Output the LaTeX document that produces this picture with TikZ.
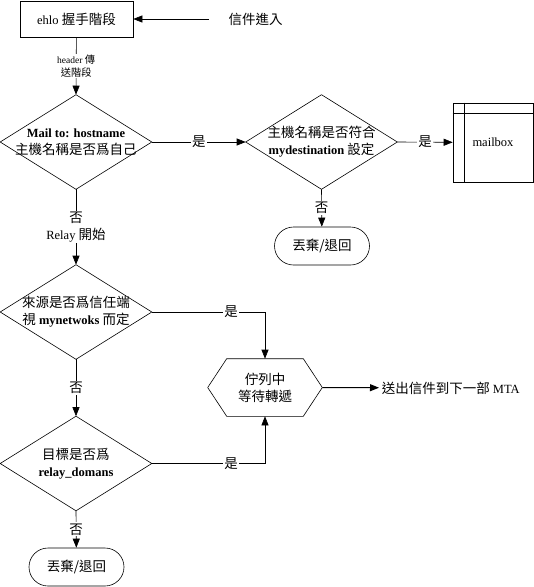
\documentclass[tikz,border=0pt]{standalone}
\usepackage{fontspec}
\setmainfont{Liberation Serif}
\newfontfamily\cjk[Scale=1.08]{Noto Sans CJK TC}
\newcommand\zh[1]{{\cjk #1}}
\usetikzlibrary{arrows.meta, shapes.misc, positioning}

\begin{document}
\begin{tikzpicture}[x=1pt, y=-1pt, line width=0.6pt,
    >={Triangle[length=9pt, width=7pt]},
    font=\fontsize{12.5}{17}\selectfont,
    box/.style={draw, minimum width=113pt, minimum height=36pt, inner sep=0pt},
    decision/.style={minimum width=151pt, minimum height=94pt, inner sep=0pt, align=center},
    term/.style={draw, rounded rectangle, minimum width=95pt, minimum height=38pt, inner sep=0pt},
    lbl/.style={fill=white, inner sep=1pt, align=center}]
  \useasboundingbox (0,0) rectangle (534,587);
  \node[box] (ehlo) at (76.5,19) {ehlo \zh{握手階段}};
  \node[anchor=west] (in) at (225,19) {\zh{信件進入}};
  \coordinate (src) at (209,19);
  \node[decision] (host) at (76,142) {\textbf{Mail to: hostname}\\\zh{主機名稱是否爲自己}};
  \node[decision] (dest) at (321.5,142) {\zh{主機名稱是否符合}\\\textbf{mydestination} \zh{設定}};
  \node[draw, minimum width=80pt, minimum height=79pt, inner sep=0pt] (mbox) at (493,142.5) {mailbox};
  \draw ([xshift=12pt]mbox.north west) -- ([xshift=12pt]mbox.south west);
  \draw ([yshift=-11pt]mbox.north west) -- ([yshift=-11pt]mbox.north east);
  \node[term] (drop1) at (322,246) {\zh{丟棄/退回}};
  \node[decision] (trust) at (76,312) {\zh{來源是否爲信任端}\\\zh{視} \textbf{mynetwoks} \zh{而定}};
  \node[decision] (relay) at (76,463.5) {\zh{目標是否爲}\\\textbf{relay\_domans}};
  \node[term] (drop2) at (76.5,567) {\zh{丟棄/退回}};
  \node[minimum width=114pt, minimum height=57pt, inner sep=0pt, align=center] (queue) at (265,387.5) {\zh{佇列中}\\\zh{等待轉遞}};
  \node[anchor=west, inner sep=2.5pt] (out) at (379,388) {\zh{送出信件到下一部} MTA};
  \foreach \n in {host,dest,trust,relay}
    \draw (\n.north) -- (\n.east) -- (\n.south) -- (\n.west) -- cycle;
  \draw (queue.west) -- ([xshift=19pt]queue.north west) -- ([xshift=-19pt]queue.north east)
    -- (queue.east) -- ([xshift=-19pt]queue.south east) -- ([xshift=19pt]queue.south west) -- cycle;
  \draw[->] (src) -- (ehlo);
  \draw[->] (ehlo) -- node[lbl, font=\fontsize{9.5}{13}\selectfont] {header \zh{傳}\\\zh{送階段}} (host.north);
  \draw[->] (host.east) -- node[lbl] {\zh{是}} (dest.west);
  \draw[->] (dest.east) -- node[lbl] {\zh{是}} (mbox);
  \draw[->] (dest.south) -- node[lbl] {\zh{否}} (drop1);
  \draw[->] (host.south) -- node[lbl] {\zh{否}\\Relay \zh{開始}} (trust.north);
  \draw[->] (trust.east) -| node[lbl, pos=0.35] {\zh{是}} (queue.north);
  \draw[->] (trust.south) -- node[lbl] {\zh{否}} (relay.north);
  \draw[->] (relay.east) -| node[lbl, pos=0.35] {\zh{是}} (queue.south);
  \draw[->] (relay.south) -- node[lbl] {\zh{否}} (drop2);
  \draw[->, line width=1pt] (queue.east) -- (out);
\end{tikzpicture}
\end{document}
